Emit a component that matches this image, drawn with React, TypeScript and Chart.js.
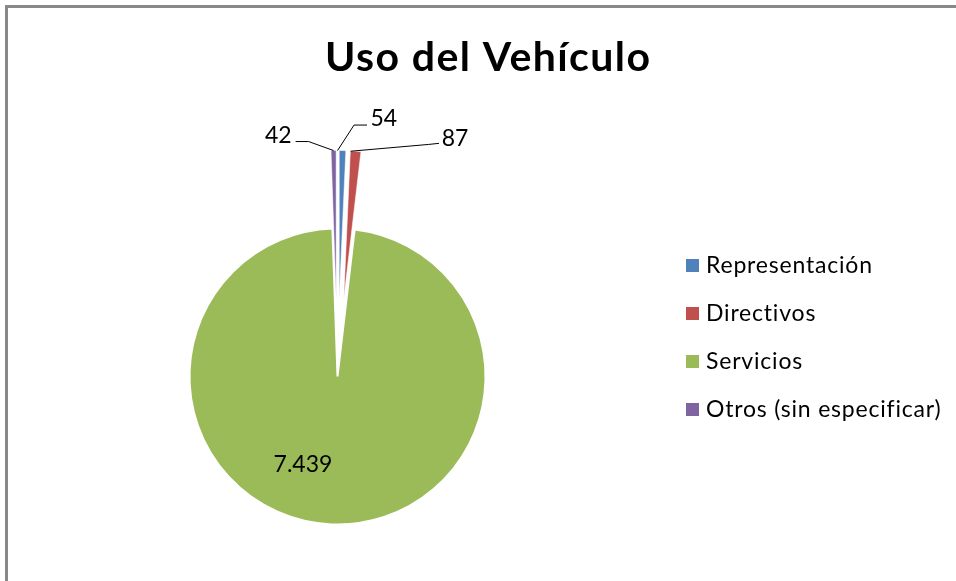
import React, { useEffect, useRef } from "react";
import { Chart, registerables } from "chart.js";

Chart.register(...registerables);

const TITLE = "Uso del Vehículo";
const CATEGORIES = ["Representación", "Directivos", "Servicios", "Otros (sin especificar)"];
const VALUES = [54, 87, 7439, 42];
const COLORS = ["#4F81BD", "#C0504D", "#9BBB59", "#8064A2"];
const EXPLODE = [78, 78, 0, 78];
const BORDER_WIDTHS = [0.5, 0.5, 2, 0.5];

// label placement (relative to slice outer tip for leader labels, to pie centre for inside labels)
const LABEL_PLACEMENT: any[] = [
  { kind: "leader", pts: [[-5, 0], [11.5, -25.5], [24.5, -25.5]], text: [28, -24.5], align: "left" },
  { kind: "leader", pts: [[-5, 0], [73, -6.8], [83.4, -7.9]], text: [86, -5.5], align: "left" },
  { kind: "inside", text: [-34.5, 95.5], align: "center" },
  { kind: "leader", pts: [[0, 0], [-25, -9], [-38, -9]], text: [-42, -7.5], align: "right" },
];

const fmt = (v: number) => String(v).replace(/\B(?=(\d{3})+(?!\d))/g, ".");

function fitSpacing(ctx: CanvasRenderingContext2D, text: string, target: number) {
  (ctx as any).letterSpacing = "0px";
  const w = ctx.measureText(text).width;
  return (target - w) / Math.max(1, text.length - 1);
}

export default function App() {
  const ref = useRef<HTMLCanvasElement>(null);
  useEffect(() => {
    const canvas = ref.current!;
    const overlay = {
      id: "overlay",
      beforeDatasetDraw(chart: any) {
        const meta = chart.getDatasetMeta(0);
        const ctx = chart.ctx;
        meta.data.forEach((arc: any, i: number) => {
          const { startAngle, endAngle } = arc.getProps(["startAngle", "endAngle"], true);
          const mid = (startAngle + endAngle) / 2;
          const e = EXPLODE[i] || 0;
          ctx.save();
          ctx.translate(Math.cos(mid) * e, Math.sin(mid) * e);
          arc.draw(ctx, chart.chartArea);
          ctx.restore();
        });
        return false;
      },
      afterDraw(chart: any) {
        const ctx: CanvasRenderingContext2D = chart.ctx;
        const meta = chart.getDatasetMeta(0);
        const ds = chart.data.datasets[0];
        ctx.save();

        // frame
        ctx.fillStyle = "#898989";
        ctx.fillRect(5, 5, 3, 581);
        ctx.fillRect(5, 5, 956, 3);

        // title
        ctx.fillStyle = "#000";
        ctx.font = "bold 41px Lato";
        ctx.textAlign = "left";
        ctx.textBaseline = "alphabetic";
        const ts = fitSpacing(ctx, TITLE, 325);
        (ctx as any).letterSpacing = ts + "px";
        ctx.fillText(TITLE, 325, 71);
        (ctx as any).letterSpacing = "0px";

        // data labels
        ctx.font = "23px Lato";
        ctx.strokeStyle = "#000";
        ctx.lineWidth = 1;
        meta.data.forEach((arc: any, i: number) => {
          const p = arc.getProps(["x", "y", "startAngle", "endAngle", "outerRadius"], true);
          const mid = (p.startAngle + p.endAngle) / 2;
          const e = EXPLODE[i] || 0;
          const lp = LABEL_PLACEMENT[i];
          const txt = fmt(ds.data[i]);
          ctx.fillStyle = "#000";
          if (lp.kind === "inside") {
            ctx.textAlign = "center";
            ctx.fillText(txt, p.x + lp.text[0], p.y + lp.text[1]);
          } else {
            const tx = p.x + Math.cos(mid) * (e + p.outerRadius);
            const ty = p.y + Math.sin(mid) * (e + p.outerRadius);
            ctx.beginPath();
            lp.pts.forEach((pt: number[], k: number) => {
              if (k === 0) ctx.moveTo(tx + pt[0], ty + pt[1]);
              else ctx.lineTo(tx + pt[0], ty + pt[1]);
            });
            ctx.stroke();
            ctx.textAlign = lp.align;
            ctx.fillText(txt, tx + lp.text[0], ty + lp.text[1]);
          }
        });

        // legend
        ctx.font = "23px Lato";
        ctx.textAlign = "left";
        const ls = fitSpacing(ctx, CATEGORIES[0], 166);
        chart.data.labels.forEach((lab: string, i: number) => {
          const yc = 265.5 + i * 48;
          ctx.fillStyle = ds.backgroundColor[i];
          ctx.fillRect(686, yc - 6.5, 13, 13);
          ctx.fillStyle = "#000";
          (ctx as any).letterSpacing = ls + "px";
          ctx.fillText(lab, 706, yc + 7.5);
          (ctx as any).letterSpacing = "0px";
        });
        ctx.restore();
      },
    };
    const chart = new Chart(canvas, {
      type: "pie",
      data: {
        labels: CATEGORIES,
        datasets: [
          {
            data: VALUES,
            backgroundColor: COLORS,
            borderColor: "#ffffff",
            borderWidth: BORDER_WIDTHS,
            hoverBorderWidth: BORDER_WIDTHS,
            offset: 0,
            hoverOffset: 0,
          } as any,
        ],
      },
      options: {
        animation: false,
        responsive: true,
        maintainAspectRatio: false,
        events: [],
        layout: { padding: { left: 188.5, top: 227.5, right: 469.5, bottom: 55.5 } },
        plugins: {
          legend: { display: false },
          title: { display: false },
          tooltip: { enabled: false },
        },
      },
      plugins: [overlay as any],
    });
    return () => chart.destroy();
  }, []);
  return (
    <div style={{ position: "fixed", left: 0, top: 0, width: 956, height: 581, background: "#fff" }}>
      <canvas ref={ref} />
    </div>
  );
}
